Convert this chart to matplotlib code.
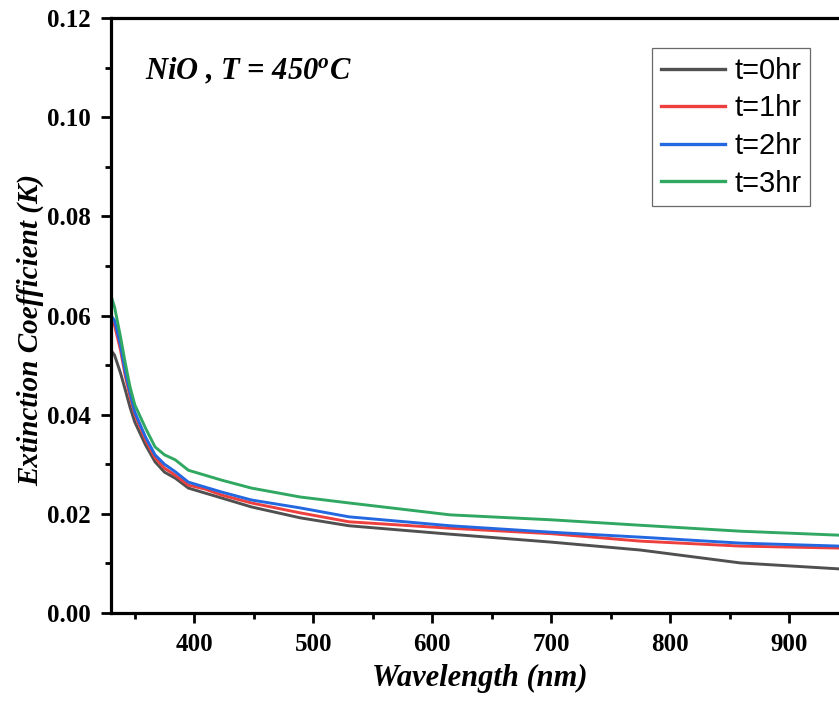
import matplotlib
matplotlib.use('Agg')
import matplotlib.pyplot as plt
from matplotlib.ticker import MultipleLocator

plt.rcParams['mathtext.fontset'] = 'custom'
plt.rcParams['mathtext.it'] = 'Liberation Serif:italic:bold'
plt.rcParams['mathtext.rm'] = 'Liberation Serif:bold'

# Wavelength (nm) and extinction coefficient
wavelength = [330, 333, 338, 342, 346, 350, 359, 367, 375, 384, 395, 409,
              423, 448, 489, 530, 615, 700, 775, 859, 942, 950]
k_0hr = [0.0530, 0.0520, 0.0484, 0.0450, 0.0415, 0.0385, 0.0339, 0.0305,
         0.0284, 0.0272, 0.0252, 0.0242, 0.0232, 0.0214, 0.0192, 0.0176,
         0.0159, 0.0143, 0.0127, 0.0101, 0.0089, 0.0087]
k_1hr = [0.0590, 0.0580, 0.0530, 0.0478, 0.0436, 0.0400, 0.0349, 0.0313,
         0.0292, 0.0278, 0.0258, 0.0250, 0.0238, 0.0222, 0.0202, 0.0184,
         0.0171, 0.0160, 0.0145, 0.0135, 0.0131, 0.0131]
k_2hr = [0.0600, 0.0590, 0.0540, 0.0486, 0.0444, 0.0405, 0.0355, 0.0319,
         0.0300, 0.0285, 0.0264, 0.0254, 0.0244, 0.0228, 0.0212, 0.0194,
         0.0176, 0.0163, 0.0153, 0.0141, 0.0135, 0.0134]
k_3hr = [0.0640, 0.0617, 0.0557, 0.0504, 0.0456, 0.0420, 0.0373, 0.0335,
         0.0319, 0.0309, 0.0288, 0.0278, 0.0268, 0.0252, 0.0234, 0.0222,
         0.0198, 0.0188, 0.0177, 0.0165, 0.0157, 0.0156]

labels = ['t=0hr', 't=1hr', 't=2hr', 't=3hr']
colors = ['#505050', '#ee3f3f', '#2368e0', '#30a862']

fig = plt.figure(figsize=(8.39, 7.11), dpi=100)
# axes runs past the right edge, as in the cropped original
ax = fig.add_axes([0.1323, 0.1378, 0.8794, 0.8368])

for y, lab, c in zip([k_0hr, k_1hr, k_2hr, k_3hr], labels, colors):
    ax.plot(wavelength, y, color=c, lw=2.1, label=lab)

ax.set_xlim(330, 950)
ax.set_ylim(0, 0.12)
ax.xaxis.set_major_locator(MultipleLocator(100))
ax.xaxis.set_minor_locator(MultipleLocator(50))
ax.yaxis.set_major_locator(MultipleLocator(0.02))
ax.yaxis.set_minor_locator(MultipleLocator(0.01))
ax.yaxis.set_major_formatter(plt.FormatStrFormatter('%.2f'))

for s in ax.spines.values():
    s.set_linewidth(2.3)
ax.tick_params(which='major', direction='out', length=7.5, width=2, pad=7)
ax.tick_params(which='minor', direction='out', length=4, width=2)
ax.tick_params(top=False, right=False)

for t in ax.get_xticklabels() + ax.get_yticklabels():
    t.set_fontfamily('Liberation Serif')
    t.set_fontweight('bold')
    t.set_fontsize(18)

ax.set_xlabel('Wavelength (nm)', fontfamily='Liberation Serif', fontweight='bold',
              fontstyle='italic', fontsize=22)
ax.set_ylabel('Extinction Coefficient (K)', fontfamily='Liberation Serif',
              fontweight='bold', fontstyle='italic', fontsize=21)
ax.xaxis.set_label_coords(0.50, -0.085)
ax.yaxis.set_label_coords(-0.09, 0.476)

fig.text(0.173, 0.888, r'NiO , T = 450$^{o}$C', fontfamily='Liberation Serif',
         fontweight='bold', fontstyle='italic', fontsize=22)

leg = ax.legend(loc='upper right', bbox_to_anchor=(810 / 839, 1 - 48 / 711),
                bbox_transform=fig.transFigure, frameon=True, fancybox=False,
                prop={'family': 'Liberation Sans', 'size': 21},
                handlelength=2.2, handletextpad=0.3, labelspacing=0.33,
                borderpad=0.3, borderaxespad=0)
leg.get_frame().set_edgecolor('#444444')
leg.get_frame().set_linewidth(0.9)
for line in leg.get_lines():
    line.set_linewidth(2.4)

fig.savefig('out.png', dpi=100)
